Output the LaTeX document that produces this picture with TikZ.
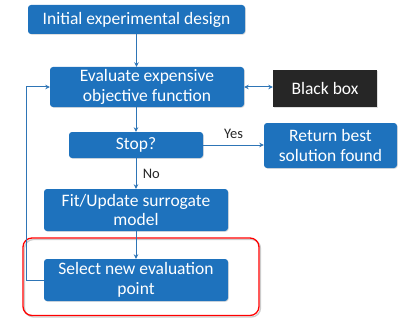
\documentclass[tikz,border=0pt]{standalone}
\usepackage{fontspec}
\setmainfont{Carlito}
\usetikzlibrary{arrows.meta,shadows}
\definecolor{flowblue}{RGB}{30,114,189}
\definecolor{boxdark}{RGB}{38,38,38}
\definecolor{lineblue}{RGB}{46,117,182}
\tikzset{
  flowbox/.style={fill=flowblue, text=white, rounded corners=3pt, align=center,
    inner sep=0pt, font=\fontsize{17.5}{19.5}\selectfont,
    drop shadow={shadow xshift=0.8pt, shadow yshift=-0.8pt, opacity=0.25}},
  darkbox/.style={fill=boxdark, text=white, align=center, inner sep=0pt,
    font=\fontsize{17.5}{19.5}\selectfont,
    drop shadow={shadow xshift=0.8pt, shadow yshift=-0.8pt, opacity=0.25}},
  flow/.style={draw=lineblue, line width=1pt, ->},
  lbl/.style={font=\fontsize{14.5}{16}\selectfont, text=black!85},
}
\begin{document}
\begin{tikzpicture}[x=1pt,y=1pt, >={Stealth[length=4.5pt,width=4.5pt]}]
\useasboundingbox (0,0) rectangle (399,-321);
% highlight frame around the selection step
\draw[black!20, line width=1.3pt, rounded corners=9pt] (24.5,-239.5) rectangle (260.5,-317);
\draw[red, line width=1.3pt, rounded corners=9pt] (23,-238) rectangle (259,-315.5);
% process steps
\node[flowbox, minimum width=217pt, minimum height=29pt] (init) at (136.5,-19.5) {Initial experimental design};
\node[flowbox, minimum width=194pt, minimum height=40pt] (eval) at (147,-87) {Evaluate expensive\\objective function};
\node[darkbox, minimum width=104pt, minimum height=37pt] (bb) at (325,-88.5) {Black box};
\node[flowbox, minimum width=134pt, minimum height=26pt] (stop) at (136,-145) {Stop?};
\node[flowbox, minimum width=133pt, minimum height=45pt] (ret) at (330.5,-145.5) {Return best\\solution found};
\node[flowbox, minimum width=184pt, minimum height=42pt] (fit) at (136,-210) {Fit/Update surrogate\\model};
\node[flowbox, minimum width=184pt, minimum height=42pt] (sel) at (136,-280) {Select new evaluation\\point};
% connectors
\draw[flow] (init.south) -- (init.south |- eval.north);
\draw[flow] (eval.south -| stop.north) -- (stop.north);
\draw[flow, <->] (eval.east) -- (eval.east -| bb.west);
\draw[flow] (stop.east) -- (stop.east -| ret.west) node[lbl, pos=0.5, above=3pt] {Yes};
\draw[flow] (stop.south) -- (fit.north) node[lbl, pos=0.5, right=3pt] {No};
\draw[flow] (fit.south) -- (sel.north);
\coordinate (loopx) at (26,0);
\draw[flow] (sel.west) -- (sel.west -| loopx) |- (eval.west);
\end{tikzpicture}
\end{document}
